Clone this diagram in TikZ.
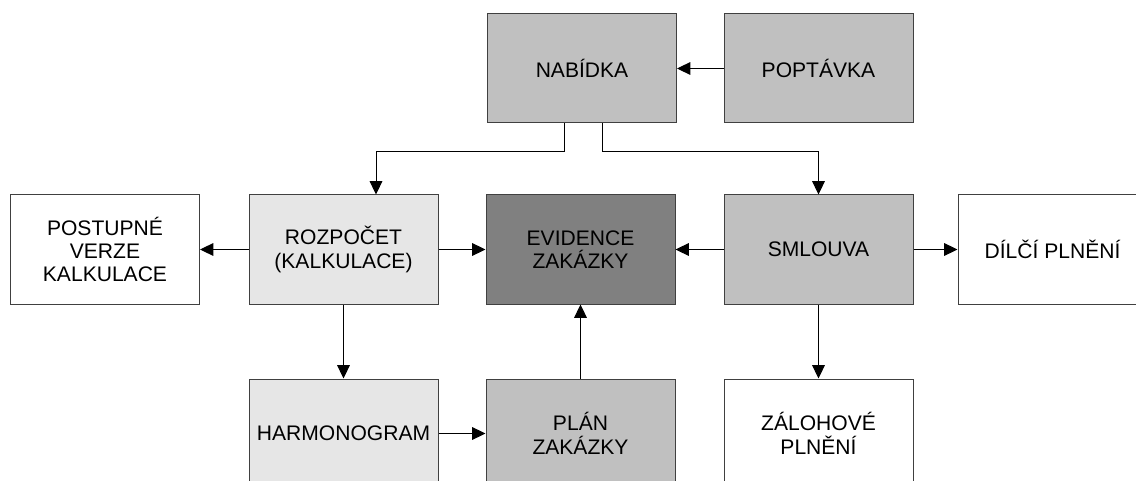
\documentclass[tikz,border=0pt]{standalone}
\usepackage{fontspec}
\setmainfont{Liberation Sans}
\usepackage{tikz}
\usetikzlibrary{arrows.meta}
\usetikzlibrary{positioning,calc}
\definecolor{boxmid}{HTML}{C0C0C0}
\definecolor{boxlight}{HTML}{E6E6E6}
\definecolor{boxdark}{HTML}{808080}
\tikzset{
    block/.style={
        draw=black!75,
        rectangle,
        line width=0.75pt,
        minimum width=141.75pt,
        minimum height=81.75pt,
        align=center,
        inner sep=2pt,
        font=\fontsize{15.8}{17.5}\selectfont
    },
    link/.style={
        draw,
        -{Triangle[length=10pt, width=9.5pt]},
        line width=0.75pt
    }
}

\begin{document}
\begin{tikzpicture}[x=0.75pt, y=-0.75pt]
  \clip (0,0) rectangle (1136,481);

  % Top row
  \node[block, fill=boxmid] (nabidka) at (582,68.5) {NABÍDKA};
  \node[block, fill=boxmid] (poptavka) at (818.5,68.5) {POPTÁVKA};

  % Middle row
  \node[block, fill=white] (postupne) at (105,249.5) {POSTUPNÉ\\VERZE\\KALKULACE};
  \node[block, fill=boxlight] (rozpocet) at (343.5,249.5) {ROZPOČET\\(KALKULACE)};
  \node[block, fill=boxdark] (evidence) at (580.5,249.5) {EVIDENCE\\ZAKÁZKY};
  \node[block, fill=boxmid] (smlouva) at (818.5,249.5) {SMLOUVA};
  \node[block, fill=white] (dilci) at (1052.5,249.5) {DÍLČÍ PLNĚNÍ};

  % Bottom row
  \node[block, fill=boxlight] (harmonogram) at (343.5,433.5) {HARMONOGRAM};
  \node[block, fill=boxmid] (plan) at (580.5,433.5) {PLÁN\\ZAKÁZKY};
  \node[block, fill=white] (zalohove) at (818.5,433.5) {ZÁLOHOVÉ\\PLNĚNÍ};

  % Connections
  \draw[link] (poptavka) -- (nabidka);
  \draw[link] ($(nabidka.south)+(-18,0)$) -- ++(0,28) -| ($(rozpocet.north)+(32.5,0)$);
  \draw[link] ($(nabidka.south)+(20,0)$) -- ++(0,28) -| (smlouva.north);
  \draw[link] (rozpocet) -- (postupne);
  \draw[link] (rozpocet) -- (evidence);
  \draw[link] (smlouva) -- (evidence);
  \draw[link] (smlouva) -- (dilci);
  \draw[link] (rozpocet) -- (harmonogram);
  \draw[link] (harmonogram) -- (plan);
  \draw[link] (plan) -- (evidence);
  \draw[link] (smlouva) -- (zalohove);
\end{tikzpicture}
\end{document}
